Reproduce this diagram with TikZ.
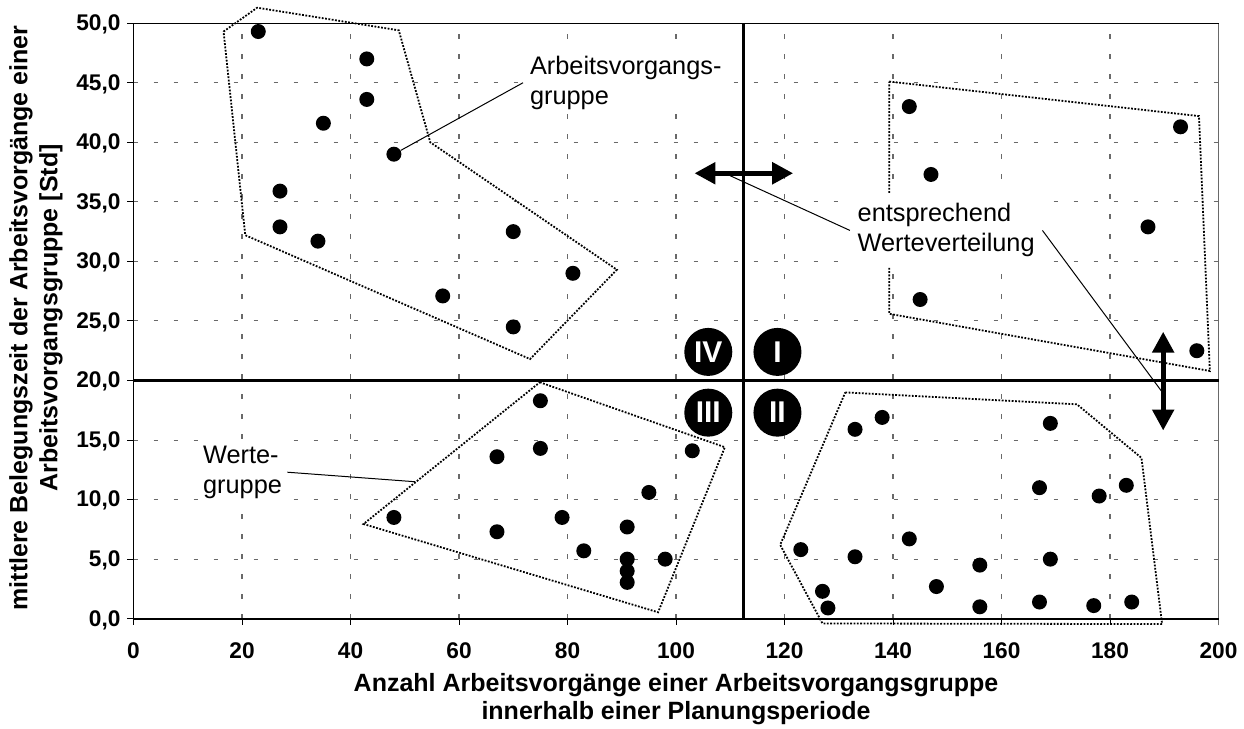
\documentclass[tikz,border=0pt]{standalone}
\usepackage{fontspec}
\setmainfont{Liberation Sans}
\usetikzlibrary{arrows.meta}
\definecolor{gridgray}{RGB}{105,105,105}

\begin{document}
\begin{tikzpicture}[x=0.75pt,y=0.75pt,
  gridline/.style={draw=gridgray, line width=0.8pt, dash pattern=on 3.6pt off 11.4pt},
  hull/.style={draw=black, line width=1.35pt, dash pattern=on 1.35pt off 1.15pt},
  dot/.style={circle, fill=black, inner sep=0pt, minimum size=11.25pt},
  callout/.style={draw=black, line width=0.75pt},
  note/.style={fill=white, inner sep=0pt, align=left, font=\fontsize{19}{22.5}\selectfont},
  quadmark/.style={circle, fill=black, text=white, inner sep=0pt, minimum size=36pt,
                   font=\fontsize{22.5}{24}\selectfont\bfseries},
  divider/.style={draw=black, line width=2.6pt},
  dblarrow/.style={draw=black, line width=4pt,
                   {Triangle[length=15.75pt,width=15.75pt]}-{Triangle[length=15.75pt,width=15.75pt]}},
  ticklabel/.style={inner sep=0pt, font=\fontsize{17}{20}\selectfont\bfseries},
  axistitle/.style={inner sep=0pt, align=center, font=\fontsize{18.75}{20.6}\selectfont\bfseries}]

\useasboundingbox (0,0) rectangle (1244,728);

% axis titles
\node[axistitle, anchor=north] (xtitle) at (676,54.5)
  {Anzahl Arbeitsvorgänge einer Arbeitsvorgangsgruppe\\innerhalb einer Planungsperiode};
\node[axistitle, anchor=north, rotate=90, font=\fontsize{18.75}{22.5}\selectfont\bfseries] (ytitle) at (9.0,410)
  {mittlere Belegungszeit der Arbeitsvorgänge einer\\Arbeitsvorgangsgruppe [Std]};

% plot area in data coordinates
\begin{scope}[shift={(100.125pt,81.975pt)}, x=4.06875pt, y=8.9325pt]

  % grid
  \foreach \gx in {20,40,...,180} \draw[gridline] (\gx,0) -- (\gx,50);
  \foreach \gy in {5,10,...,45} \draw[gridline] (0,\gy) -- (200,\gy);
  \draw[draw=gridgray, line width=0.8pt] (200,-0.55) -- (200,50);

  % axes and frame
  \draw[line width=0.75pt] (0,50) -- (200,50);
  \draw[line width=0.8pt] (0,0) -- (0,50);
  \draw[line width=1.2pt] (0,0) -- (200,0);
  \foreach \ty in {0,5,...,50} \draw[line width=0.75pt] (0,\ty) -- ++(-5.1pt,0);
  \foreach \tx in {0,20,...,180} \draw[line width=0.75pt] (\tx,0) -- ++(0,-4.7pt);

  % tick labels
  \foreach \ty in {0,5,...,50}
    \node[ticklabel, anchor=base east] (yl\ty) at (0,\ty) [xshift=-9.6pt, yshift=-5.55pt] {\ty,0};
  \foreach \tx in {0,20,...,200}
    \node[ticklabel, anchor=base] (xl\tx) at (\tx,0) [yshift=-29.7pt] {\tx};

  % quadrant dividers
  \draw[divider] (0,20) -- (200,20);
  \draw[divider] (112.4,0) -- (112.4,50);

  % group hulls
  \draw[hull] (16.6,49.3) -- (22.8,51.3) -- (48.9,49.4) -- (54.7,40.0) -- (89.1,29.3)
              -- (73.1,21.8) -- (20.6,32.2) -- cycle;
  \draw[hull] (139.3,45.1) -- (196.4,42.2) -- (198.4,20.8) -- (139.3,25.6) -- cycle;
  \draw[hull] (74.9,19.85) -- (109.0,14.4) -- (96.7,0.54) -- (42.4,7.95) -- cycle;
  \draw[hull] (131.2,19.0) -- (173.9,18.0) -- (185.8,13.5) -- (189.6,-0.45)
              -- (127.0,-0.4) -- (119.2,6.2) -- cycle;

  % quadrant IV
  \node[dot] (a1) at (23,49.3) {};
  \node[dot] (a2) at (43,47) {};
  \node[dot] (a3) at (43,43.6) {};
  \node[dot] (a4) at (35,41.6) {};
  \node[dot] (a5) at (48,39) {};
  \node[dot] (a6) at (27,35.9) {};
  \node[dot] (a7) at (27,32.9) {};
  \node[dot] (a8) at (34,31.7) {};
  \node[dot] (a9) at (70,32.5) {};
  \node[dot] (a10) at (81,29) {};
  \node[dot] (a11) at (57,27.1) {};
  \node[dot] (a12) at (70,24.5) {};

  % quadrant I
  \node[dot] (b1) at (143,43) {};
  \node[dot] (b2) at (193,41.3) {};
  \node[dot] (b3) at (147,37.3) {};
  \node[dot] (b4) at (187,32.9) {};
  \node[dot] (b5) at (145,26.8) {};
  \node[dot] (b6) at (196,22.5) {};

  % quadrant III
  \node[dot] (c1) at (75,18.3) {};
  \node[dot] (c2) at (67,13.6) {};
  \node[dot] (c3) at (75,14.3) {};
  \node[dot] (c4) at (103,14.1) {};
  \node[dot] (c5) at (95,10.6) {};
  \node[dot] (c6) at (79,8.5) {};
  \node[dot] (c7) at (91,7.7) {};
  \node[dot] (c8) at (67,7.3) {};
  \node[dot] (c9) at (83,5.7) {};
  \node[dot] (c10) at (91,5.0) {};
  \node[dot] (c11) at (91,4.0) {};
  \node[dot] (c12) at (91,3.05) {};
  \node[dot] (c13) at (98,5.0) {};
  \node[dot] (c14) at (48,8.5) {};

  % quadrant II
  \node[dot] (e1) at (138,16.9) {};
  \node[dot] (e2) at (133,15.9) {};
  \node[dot] (e3) at (169,16.4) {};
  \node[dot] (e4) at (167,11) {};
  \node[dot] (e5) at (178,10.3) {};
  \node[dot] (e6) at (183,11.2) {};
  \node[dot] (e7) at (143,6.7) {};
  \node[dot] (e8) at (133,5.2) {};
  \node[dot] (e9) at (169,5.0) {};
  \node[dot] (e10) at (156,4.5) {};
  \node[dot] (e11) at (148,2.7) {};
  \node[dot] (e12) at (156,1.0) {};
  \node[dot] (e13) at (167,1.4) {};
  \node[dot] (e14) at (177,1.1) {};
  \node[dot] (e15) at (184,1.4) {};
  \node[dot] (e16) at (123,5.8) {};
  \node[dot] (e17) at (127,2.3) {};
  \node[dot] (e18) at (128,0.9) {};

  % shift arrows for the quadrant dividers
  \coordinate (hl) at (103.4,37.4);
  \coordinate (hr) at (121.6,37.4);
  \coordinate (vt) at (189.8,24.1);
  \coordinate (vb) at (189.8,15.8);
  \coordinate (hpick) at (109.95,37.2);
  \coordinate (vpick) at (189.5,19.1);
  \coordinate (wpick) at (51.9,11.5);

  % annotations
  \node[note, anchor=west, minimum width=153.75pt, minimum height=45pt] (labA) at (71.8,45.0)
    {Arbeitsvorgangs-\\gruppe};
  \node[note, minimum width=66.75pt, minimum height=49.5pt] (labW) at (20.1,12.3)
    {Werte-\\gruppe};
  \node[note, minimum width=144pt, minimum height=55.5pt] (labE) at (149.8,32.6)
    {entsprechend\\Werteverteilung};

  \draw[callout] (a5) -- (labA.west);
  \draw[callout] (labW.east) -- (wpick);
  \draw[callout] (hpick) -- (labE.west);
  \draw[callout] (labE.east) -- (vpick);

  \draw[dblarrow] (hl) -- (hr);
  \draw[dblarrow] (vt) -- (vb);

  % quadrant numbers
  \node[quadmark] (q4) at (105.95,22.4) {IV};
  \node[quadmark] (q1) at (118.7,22.4) {I};
  \node[quadmark] (q3) at (105.95,17.3) {III};
  \node[quadmark] (q2) at (118.7,17.3) {II};
\end{scope}
\end{tikzpicture}
\end{document}
